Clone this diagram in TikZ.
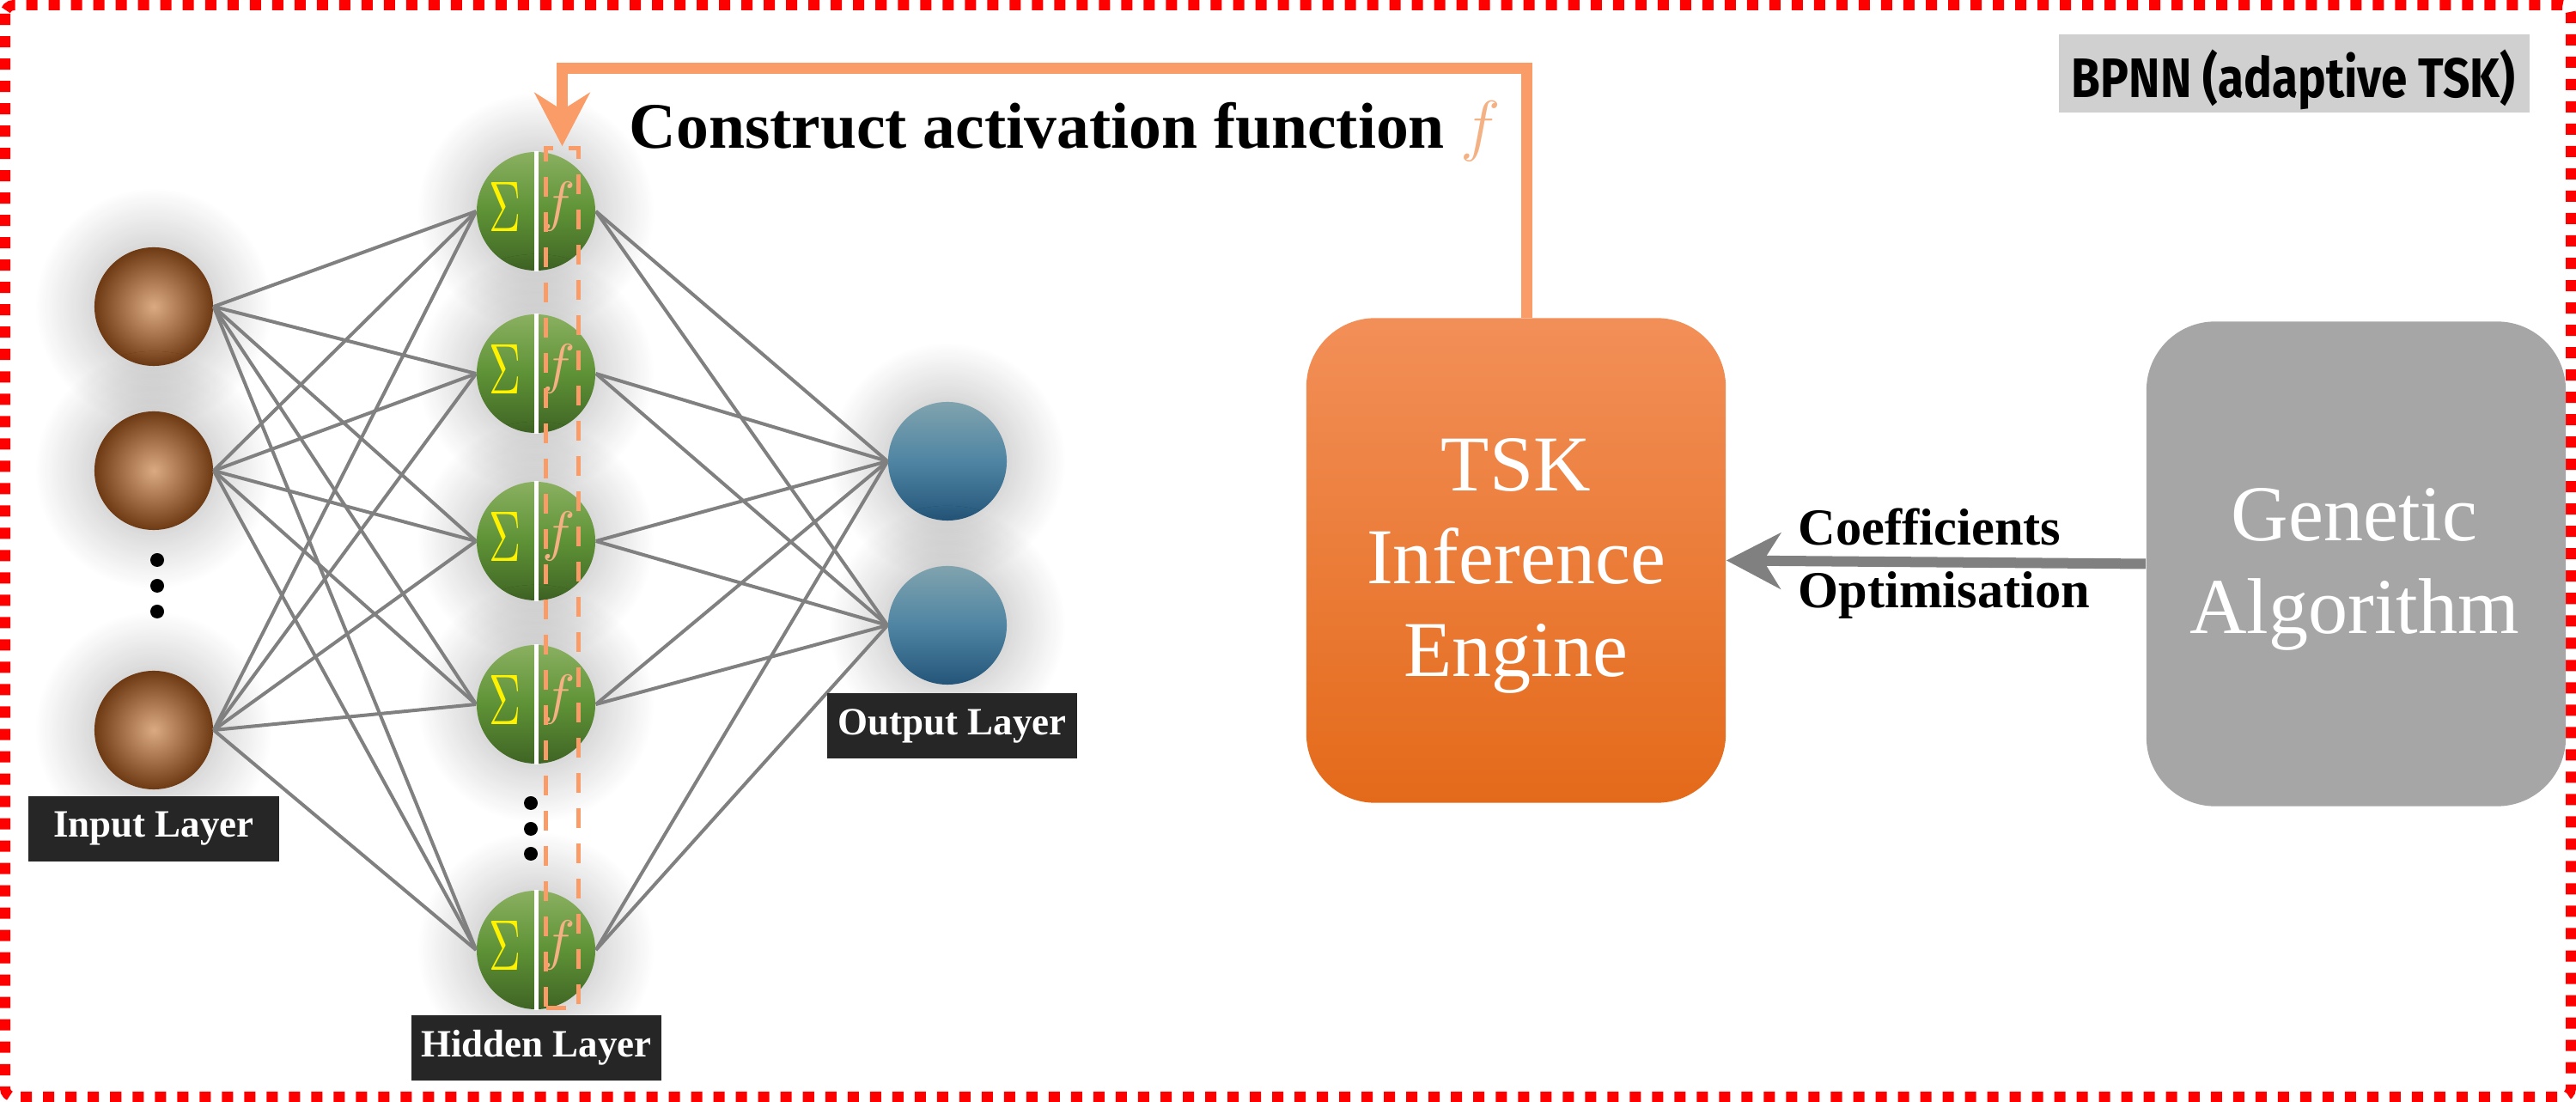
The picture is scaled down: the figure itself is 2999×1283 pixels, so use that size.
\documentclass[tikz,border=0pt]{standalone}
\usepackage{fontspec}
\setmainfont{Liberation Serif}
\newfontfamily\bpnnfont{Fira Sans}
\usepackage{graphicx}
\usetikzlibrary{arrows.meta,shadows.blur}
\definecolor{oline}{HTML}{FA9C68}
\definecolor{flight}{HTML}{F4B183}
\definecolor{intan}{HTML}{DCAA82}
\definecolor{inbrown}{HTML}{6E3A14}
\definecolor{gtop}{HTML}{8AB060}
\definecolor{gmid}{HTML}{5E9236}
\definecolor{gbot}{HTML}{3F6424}
\definecolor{btop}{HTML}{80A3AE}
\definecolor{bmid}{HTML}{4F85A3}
\definecolor{bbot}{HTML}{245579}
\definecolor{tsktop}{HTML}{F28F58}
\definecolor{tskbot}{HTML}{E46A1A}
\definecolor{gabox}{HTML}{A6A6A6}
\definecolor{labbox}{HTML}{262626}
\definecolor{bpbox}{HTML}{D0D0D0}
\definecolor{connc}{HTML}{808080}
\definecolor{bordred}{HTML}{FF0000}
\begin{document}
\begin{tikzpicture}[x=0.01cm,y=-0.01cm,
  glow/.style={blur shadow={shadow xshift=0pt,shadow yshift=0pt,shadow blur radius=17pt,shadow blur steps=40,shadow opacity=28,shadow scale=1.08}},
  innode/.style={circle,minimum size=1.38cm,inner sep=0pt,inner color=intan,outer color=inbrown,glow},
  hidnode/.style={circle,minimum size=1.38cm,inner sep=0pt,top color=gtop,bottom color=gbot,middle color=gmid,glow},
  outnode/.style={circle,minimum size=1.38cm,inner sep=0pt,top color=btop,bottom color=bbot,middle color=bmid,glow},
  layerlab/.style={fill=labbox,text=white,font=\bfseries\fontsize{12.8}{15}\selectfont,minimum width=2.91cm,minimum height=0.76cm,inner sep=0pt},
  bigbox/.style={rounded corners=0.8cm,minimum width=4.88cm,minimum height=5.64cm,inner sep=0pt},
  boxtext/.style={text=white,align=center,font=\fontsize{26.2}{30.7}\selectfont},
  conn/.style={draw=connc,line width=0.04cm},
  coefftext/.style={anchor=base west,inner sep=0pt,font=\bfseries\fontsize{17.2}{20.8}\selectfont}
]
\useasboundingbox (0,0) rectangle (2999,1283);

% border
\draw[bordred,line width=0.12cm,dash pattern=on 0.13cm off 0.13cm,rounded corners=0.1cm] (6,6) rectangle (2993,1277);

% BPNN label
\node[fill=bpbox,minimum width=5.48cm,minimum height=0.91cm,inner sep=0pt] (bp) at (2671,85.5) {};
\node[inner sep=0pt] (bptext) at (2670,93) {\resizebox*{5.16cm}{0.70cm}{\bpnnfont\bfseries BPNN (adaptive TSK)}};

% input nodes
\node[innode] (i1) at (179,357) {};
\node[innode] (i2) at (179,548) {};
\node[innode] (i3) at (179,850) {};
% hidden nodes
\node[hidnode] (h1) at (624,246) {};
\node[hidnode] (h2) at (624,435) {};
\node[hidnode] (h3) at (624,630) {};
\node[hidnode] (h4) at (624,820) {};
\node[hidnode] (h5) at (624,1106) {};
% output nodes
\node[outnode] (o1) at (1103,537) {};
\node[outnode] (o2) at (1103,728) {};

% connections
\foreach \a in {i1,i2,i3}{
  \foreach \b in {h1,h2,h3,h4,h5}{
    \draw[conn] (\a.east) -- (\b.west);
  }
}
\foreach \a in {h1,h2,h3,h4,h5}{
  \foreach \b in {o1,o2}{
    \draw[conn] (\a.east) -- (\b.west);
  }
}

% hidden node decorations
\foreach \a in {h1,h2,h3,h4,h5}{
  \draw[white,line width=0.05cm] (\a.north) -- (\a.south);
  \node[text=yellow,inner sep=0pt] at ([xshift=-0.36cm,yshift=0.05cm]\a.center) {\resizebox{0.37cm}{0.57cm}{$\Sigma$}};
  \node[text=flight,inner sep=0pt] at ([xshift=0.27cm,yshift=0.06cm]\a.center) {\resizebox*{!}{0.57cm}{$f$}};
}

% dots
\fill[black] (183,652) circle[radius=0.08cm];
\fill[black] (183,682) circle[radius=0.08cm];
\fill[black] (183,712) circle[radius=0.08cm];
\fill[black] (618,935) circle[radius=0.08cm];
\fill[black] (618,965) circle[radius=0.08cm];
\fill[black] (618,994) circle[radius=0.08cm];

% layer labels
\node[layerlab] (inlab) at (179,965) {Input Layer};
\node[layerlab] (hidlab) at (624.5,1220) {Hidden Layer};
\node[layerlab] (outlab) at (1108.5,845) {Output Layer};

% dashed box over activation functions
\node[draw=oline,line width=0.05cm,dash pattern=on 0.23cm off 0.18cm,minimum width=0.37cm,minimum height=10cm,inner sep=0pt] (fbox) at (654.5,673) {};

% TSK and GA boxes
\node[bigbox,top color=tsktop,bottom color=tskbot] (tsk) at (1765,652.5) {};
\node[boxtext] (tsktext) at (1765,659) {TSK\\Inference\\Engine};
\node[bigbox,fill=gabox] (ga) at (2743,656.5) {};
\node[boxtext] (gatext) at (2741,663) {Genetic\\Algorithm};

% construct text
\node[anchor=base west,inner sep=0pt,font=\bfseries\fontsize{21.5}{25}\selectfont] (ctext) at (732,173) {Construct activation function \textcolor{flight}{\resizebox*{!}{0.70cm}{$f$}}};

% orange feedback arrow
\draw[oline,line width=0.13cm,-{Stealth[length=0.62cm,width=0.64cm,inset=0.2cm]}]
  ([xshift=0.12cm]tsk.north) |- ([yshift=0.91cm]fbox.north) -- (fbox.north);

% gray arrow
\draw[connc,line width=0.12cm,-{Stealth[length=0.63cm,width=0.65cm,inset=0.2cm]}] (ga.west) -- (tsk.east);
\node[coefftext] (coef) at (2093,635) {Coefficients};
\node[coefftext] (optim) at (2093,708) {Optimisation};

\end{tikzpicture}
\end{document}
